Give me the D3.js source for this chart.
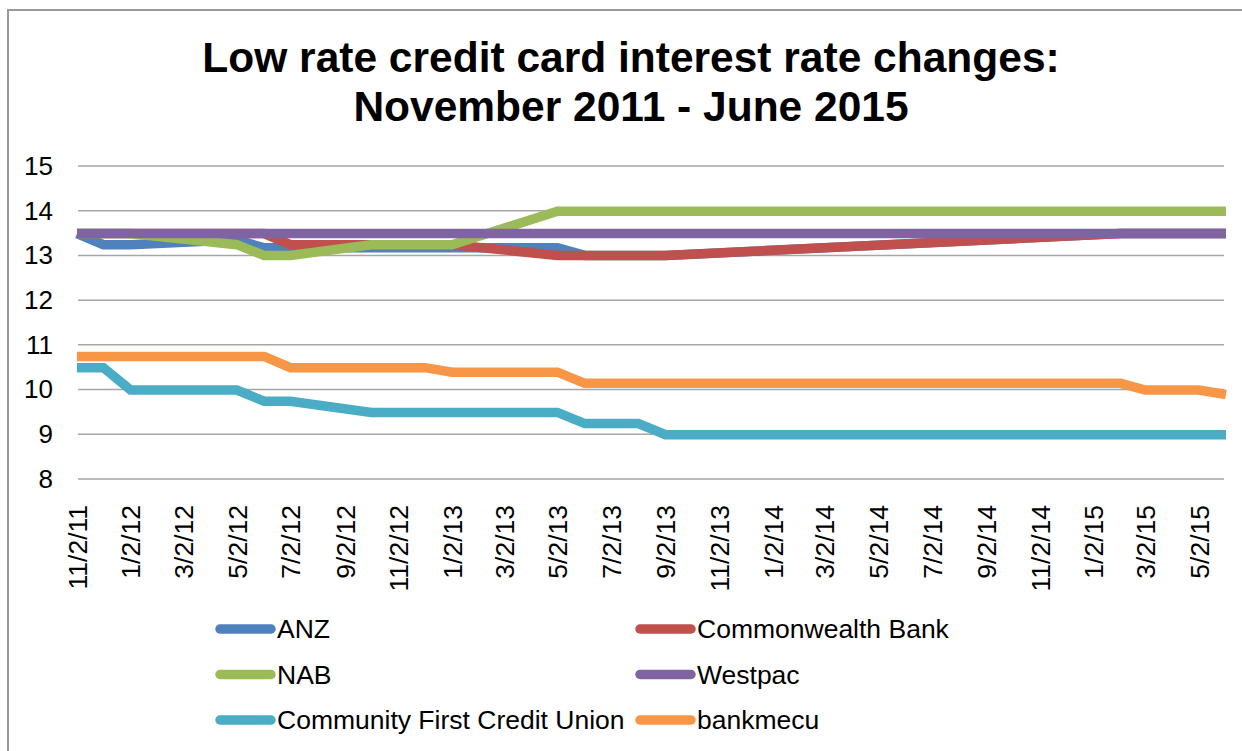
<!DOCTYPE html>
<html>
<head>
<meta charset="utf-8">
<script src="https://cdn.jsdelivr.net/npm/d3@7"></script>
<style>
  body { margin: 0; background: #fff; }
  svg { display: block; font-family: "Liberation Sans", Arial, Helvetica, sans-serif; }
</style>
</head>
<body>
<svg id="chart"></svg>
<script>
// Chart size
const width = 1242;
const height = 751;

// Data: breakpoints of each series (date, rate %)
const seriesNames = ["ANZ", "Commonwealth Bank", "NAB", "Westpac", "Community First Credit Union", "bankmecu"];
const seriesColors = ["#4F81BD", "#C0504D", "#9BBB59", "#8064A2", "#4BACC6", "#F79646"];

const anz = [["11/2/11", 13.49], ["12/2/11", 13.24], ["1/2/12", 13.24], ["5/2/12", 13.35], ["6/2/12", 13.17],
             ["5/2/13", 13.17], ["6/2/13", 13.0], ["9/2/13", 13.0], ["2/2/15", 13.49], ["6/2/15", 13.49]];
const cba = [["11/2/11", 13.49], ["6/2/12", 13.49], ["7/2/12", 13.24], ["1/2/13", 13.24], ["5/2/13", 13.0],
             ["9/2/13", 13.0], ["2/2/15", 13.49], ["6/2/15", 13.49]];
const nab = [["11/2/11", 13.49], ["1/2/12", 13.49], ["5/2/12", 13.24], ["6/2/12", 13.0], ["7/2/12", 13.0],
             ["10/2/12", 13.24], ["1/2/13", 13.24], ["5/2/13", 13.99], ["6/2/15", 13.99]];
const westpac = [["11/2/11", 13.49], ["6/2/15", 13.49]];
const cfcu = [["11/2/11", 10.49], ["12/2/11", 10.49], ["1/2/12", 9.99], ["5/2/12", 9.99], ["6/2/12", 9.74],
              ["7/2/12", 9.74], ["10/2/12", 9.49], ["5/2/13", 9.49], ["6/2/13", 9.24], ["8/2/13", 9.24],
              ["9/2/13", 8.99], ["6/2/15", 8.99]];
const bankmecu = [["11/2/11", 10.74], ["6/2/12", 10.74], ["7/2/12", 10.49], ["12/2/12", 10.49], ["1/2/13", 10.39],
                  ["5/2/13", 10.39], ["6/2/13", 10.14], ["2/2/15", 10.14], ["3/2/15", 9.99], ["5/2/15", 9.99],
                  ["6/2/15", 9.89]];

const xTickLabels = ["11/2/11", "1/2/12", "3/2/12", "5/2/12", "7/2/12", "9/2/12", "11/2/12", "1/2/13", "3/2/13",
                     "5/2/13", "7/2/13", "9/2/13", "11/2/13", "1/2/14", "3/2/14", "5/2/14", "7/2/14", "9/2/14",
                     "11/2/14", "1/2/15", "3/2/15", "5/2/15"];
const yTicks = [8, 9, 10, 11, 12, 13, 14, 15];

const parseDate = d3.timeParse("%m/%d/%y");
const allSeries = [anz, cba, nab, westpac, cfcu, bankmecu].map((s, i) => ({
    name: seriesNames[i],
    color: seriesColors[i],
    values: s.map(d => ({ date: parseDate(d[0]), value: d[1] }))
}));

const svg = d3.select("#chart")
    .attr("width", width)
    .attr("height", height);

// Outer chart border
svg.append("rect")
    .attr("x", 8).attr("y", 10)
    .attr("width", 1260).attr("height", 780)
    .attr("fill", "none")
    .attr("stroke", "#999")
    .attr("stroke-width", 2);

// Scales
const xScale = d3.scaleTime()
    .domain([parseDate("11/2/11"), parseDate("6/2/15")])
    .range([77, 1226]);

const yScale = d3.scaleLinear()
    .domain([8, 15])
    .range([479, 166]);

// Title
const title = svg.append("text")
    .attr("text-anchor", "middle")
    .attr("font-weight", "bold")
    .attr("font-size", 42.5)
    .attr("fill", "#000");
title.append("tspan").attr("x", 631).attr("y", 72).text("Low rate credit card interest rate changes:");
title.append("tspan").attr("x", 631).attr("y", 121).text("November 2011 - June 2015");

// Gridlines
svg.append("g")
    .selectAll("line")
    .data(yTicks)
    .join("line")
    .attr("x1", 78)
    .attr("x2", 1224)
    .attr("y1", d => yScale(d))
    .attr("y2", d => yScale(d))
    .attr("stroke", "#a6a6a6")
    .attr("stroke-width", 1.5);

// Y axis
const yAxis = d3.axisLeft(yScale)
    .tickValues(yTicks)
    .tickFormat(d3.format("d"))
    .tickSize(0)
    .tickPadding(25);
svg.append("g")
    .attr("transform", "translate(78,0)")
    .call(yAxis)
    .call(g => g.select(".domain").remove())
    .selectAll("text")
    .attr("font-size", 26)
    .attr("font-family", "Liberation Sans, Arial, sans-serif")
    .attr("fill", "#000");

// X axis with rotated labels
const xAxis = d3.axisBottom(xScale)
    .tickValues(xTickLabels.map(parseDate))
    .tickFormat((d, i) => xTickLabels[i])
    .tickSize(0);
svg.append("g")
    .attr("transform", "translate(0,479)")
    .call(xAxis)
    .call(g => g.select(".domain").remove())
    .selectAll("text")
    .attr("font-size", 26.5)
    .attr("font-family", "Liberation Sans, Arial, sans-serif")
    .attr("fill", "#000")
    .attr("text-anchor", "end")
    .attr("dy", "0.35em")
    .attr("transform", "translate(0,26) rotate(-90)")
    .attr("y", 0)
    .attr("x", 0);

// Lines
const line = d3.line()
    .x(d => xScale(d.date))
    .y(d => yScale(d.value));

svg.append("g")
    .selectAll("path")
    .data(allSeries)
    .join("path")
    .attr("d", d => line(d.values))
    .attr("fill", "none")
    .attr("stroke", d => d.color)
    .attr("stroke-width", 9.5)
    .attr("stroke-linejoin", "miter");

// Legend: two columns, three rows
const legend = svg.append("g")
    .selectAll("g")
    .data(allSeries)
    .join("g")
    .attr("transform", (d, i) => `translate(${i % 2 === 0 ? 220 : 640},${629 + Math.floor(i / 2) * 45.5})`);

legend.append("line")
    .attr("x1", 0).attr("x2", 51)
    .attr("stroke", d => d.color)
    .attr("stroke-width", 9.5)
    .attr("stroke-linecap", "round");

legend.append("text")
    .attr("x", 57)
    .attr("dy", "0.35em")
    .attr("font-size", 26.5)
    .attr("fill", "#000")
    .text(d => d.name);
</script>
</body>
</html>
